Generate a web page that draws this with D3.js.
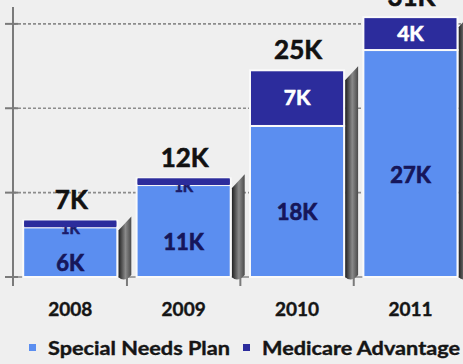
<!DOCTYPE html>
<html><head><meta charset="utf-8">
<script src="https://cdn.jsdelivr.net/npm/d3@7"></script>
<style>
html,body{margin:0;padding:0;background:#efefef;}
svg{display:block;}
text{font-family:Lato,"Open Sans",sans-serif;font-weight:bold;}
</style></head><body>
<svg id="c" width="463" height="364"></svg>
<script>
const years = ["2008", "2009", "2010", "2011"];
const specialNeeds = [5.9, 10.9, 17.9, 26.9];
const medicareAdv = [0.8, 0.8, 6.6, 3.9];
const snpLabels = ["6K", "11K", "18K", "27K"];
const maLabels = ["1K", "1K", "7K", "4K"];
const totalLabels = ["7K", "12K", "25K", "31K"];
const yTicks = [0, 10, 20, 30];
const seriesNames = ["Special Needs Plan", "Medicare Advantage"];
const colors = ["#5b8ef0", "#2c2c9c"];

const svg = d3.select("#c");
const W = 463, H = 364;
const x = d3.scaleBand().domain(years).range([13, 467.7]).paddingInner(0.17).paddingOuter(0.09);
const y = d3.scaleLinear().domain([0, 32]).range([277, 7]);
const bw = x.bandwidth();

const defs = svg.append("defs");
const g = defs.append("linearGradient").attr("id", "sh").attr("x1", "0").attr("x2", "1").attr("y1", "0").attr("y2", "0");
g.append("stop").attr("offset", "0%").attr("stop-color", "#1e1e1e");
g.append("stop").attr("offset", "55%").attr("stop-color", "#8a8a8a");
g.append("stop").attr("offset", "100%").attr("stop-color", "#4a4a4a");

// gridlines
svg.append("g").selectAll("line").data(yTicks.filter(d => d > 0)).join("line")
  .attr("x1", 13).attr("x2", W).attr("y1", d => y(d)).attr("y2", d => y(d))
  .attr("stroke", "#8c8c8c").attr("stroke-width", 1.6).attr("stroke-dasharray", "3,2");

// x tick marks at band boundaries
const bounds = years.map((d, i) => i === 0 ? 13 : x(d) - x.step() * x.paddingInner() / 2);
svg.append("g").selectAll("line").data(bounds).join("line")
  .attr("x1", d => d).attr("x2", d => d).attr("y1", 270).attr("y2", 286)
  .attr("stroke", "#7a7a7a").attr("stroke-width", 2);

// baseline
svg.append("line").attr("x1", 5).attr("x2", W).attr("y1", y(0)).attr("y2", y(0))
  .attr("stroke", "#8a8a8a").attr("stroke-width", 1.5);

// y axis
svg.append("line").attr("x1", 13).attr("x2", 13).attr("y1", 7).attr("y2", 286)
  .attr("stroke", "#7a7a7a").attr("stroke-width", 2);
svg.append("g").selectAll("line").data(yTicks).join("line")
  .attr("x1", 5).attr("x2", 18).attr("y1", d => y(d)).attr("y2", d => y(d))
  .attr("stroke", "#7a7a7a").attr("stroke-width", 2);

// shadows
svg.append("g").selectAll("path").data(years).join("path")
  .attr("d", (d, i) => {
    const x1 = x(d) + bw + 1, top = y(specialNeeds[i] + medicareAdv[i]);
    return `M${x1},${top + 10}L${x1 + 13},${top - 4}L${x1 + 13},${y(0) - 2}Q${x1 + 6},${y(0) + 6} ${x1},${y(0)}Z`;
  })
  .attr("fill", "url(#sh)");

// bars
const bars = svg.append("g");
bars.selectAll("rect.snp").data(years).join("rect").attr("class", "snp")
  .attr("x", d => x(d)).attr("width", bw)
  .attr("y", (d, i) => y(specialNeeds[i])).attr("height", (d, i) => y(0) - y(specialNeeds[i]))
  .attr("fill", colors[0]).attr("stroke", "#fafafa").attr("stroke-width", 2);
bars.selectAll("rect.ma").data(years).join("rect").attr("class", "ma")
  .attr("x", d => x(d)).attr("width", bw)
  .attr("y", (d, i) => y(specialNeeds[i] + medicareAdv[i])).attr("height", (d, i) => y(specialNeeds[i]) - y(specialNeeds[i] + medicareAdv[i]))
  .attr("fill", colors[1]).attr("stroke", "#fafafa").attr("stroke-width", 2);

// labels inside SNP
svg.append("g").selectAll("text").data(years).join("text")
  .attr("x", d => x(d) + bw / 2)
  .attr("y", (d, i) => (y(0) + y(specialNeeds[i])) / 2 + 19)
  .attr("text-anchor", "middle").attr("font-size", 22).attr("fill", "#16165a")
  .attr("stroke", "#16165a").attr("stroke-width", 0.7)
  .text((d, i) => snpLabels[i]);

// labels MA
svg.append("g").selectAll("text").data(years).join("text")
  .attr("x", d => x(d) + bw / 2)
  .attr("y", (d, i) => {
    const mid = (y(specialNeeds[i]) + y(specialNeeds[i] + medicareAdv[i])) / 2;
    return medicareAdv[i] < 2 ? mid + 10 : mid + 7;
  })
  .attr("text-anchor", "middle")
  .attr("font-size", (d, i) => medicareAdv[i] < 2 ? 15 : 21)
  .attr("fill", (d, i) => medicareAdv[i] < 2 ? "#1c1c6a" : "#ffffff")
  .attr("stroke", (d, i) => medicareAdv[i] < 2 ? "#1c1c6a" : "#ffffff").attr("stroke-width", 0.6)
  .text((d, i) => maLabels[i]);

// thin MA segments drawn over the tops of their small labels
svg.append("g").selectAll("rect").data(years.filter((d, i) => medicareAdv[i] < 2)).join("rect")
  .attr("x", d => x(d) + 1).attr("width", bw - 2)
  .attr("y", d => { const i = years.indexOf(d); return y(specialNeeds[i] + medicareAdv[i]); })
  .attr("height", d => { const i = years.indexOf(d); return y(specialNeeds[i]) - y(specialNeeds[i] + medicareAdv[i]); })
  .attr("fill", colors[1]);

// totals
svg.append("g").selectAll("text").data(years).join("text")
  .attr("x", d => x(d) + bw / 2 + 1)
  .attr("y", (d, i) => y(specialNeeds[i] + medicareAdv[i]) - 11)
  .attr("text-anchor", "middle").attr("font-size", 26).attr("fill", "#111")
  .attr("stroke", "#111").attr("stroke-width", 0.6)
  .text((d, i) => totalLabels[i]);

// x labels
svg.append("g").selectAll("text").data(years).join("text")
  .attr("x", d => x(d) + bw / 2).attr("y", 316)
  .attr("text-anchor", "middle").attr("font-size", 19).attr("fill", "#151515")
  .attr("stroke", "#151515").attr("stroke-width", 0.4)
  .text(d => d);

// legend
const leg = svg.append("g");
const legX = [29, 243];
const legW = [182, 198];
seriesNames.forEach((n, i) => {
  leg.append("rect").attr("x", legX[i]).attr("y", 344).attr("width", 7).attr("height", 7).attr("fill", colors[i]);
  leg.append("text").attr("x", legX[i] + 19).attr("y", 355).attr("font-size", 19)
    .attr("textLength", legW[i]).attr("lengthAdjust", "spacingAndGlyphs")
    .attr("fill", "#151515").attr("stroke", "#151515").attr("stroke-width", 0.4).text(n);
});
</script>
</body></html>
